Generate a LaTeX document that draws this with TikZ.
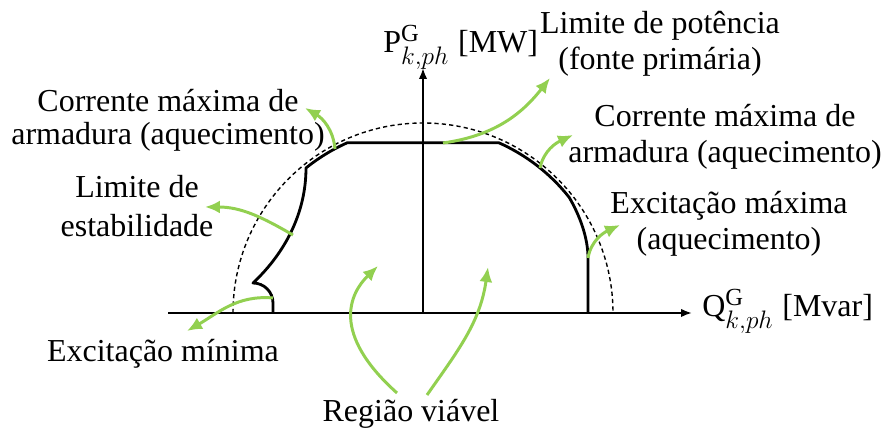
\documentclass[tikz,border=0pt]{standalone}
\usepackage{fontspec}
\setmainfont{Liberation Serif}
\usepackage{amsmath}
\DeclareMathSizes{18.2}{18.2}{14}{10}
\usetikzlibrary{arrows.meta}
\definecolor{pointgreen}{HTML}{92D050}

\begin{document}
\begin{tikzpicture}[
    x=0.02cm, y=0.02cm,
    axis/.style={line width=1.1pt, -{Latex[length=0.22cm, width=0.17cm]}},
    limit/.style={line width=1.6pt, line join=round},
    ratedcirc/.style={line width=0.8pt, dash pattern=on 2.4pt off 1.8pt},
    pointer/.style={pointgreen, line width=1.7pt,
                    -{Latex[length=0.3cm, width=0.26cm]}},
    lbl/.style={font=\fontsize{18.2}{21}\selectfont, align=center, inner sep=0pt},
]
    \useasboundingbox (0,0) rectangle (883,428);

    % Axes
    \coordinate (o)      at (423,115);
    \coordinate (qstart) at (168,115);
    \coordinate (qend)   at (692,115);
    \coordinate (pend)   at (423,360);
    \draw[axis] (qstart) -- (qend);
    \draw[axis] (o) -- (pend);
    \node[lbl, anchor=base west] (qlbl) at (702,111)
        {Q$^{\mathrm{G}}_{k,ph}$\hspace{5pt}[Mvar]};
    \node[lbl, anchor=base west] (plbl) at (383,375)
        {P$^{\mathrm{G}}_{k,ph}$\hspace{5pt}[MW]};

    % Rated circle
    \draw[ratedcirc] (233,115) arc[start angle=180, end angle=0, radius=190];

    % Capability limits
    \draw[limit] (273,115) -- (273,125)
        arc[start angle=0, end angle=90, radius=20]
        .. controls (285,175) and (306,215) .. (306,260)
        arc[start angle=128.9, end angle=114, radius=186]
        -- ++(151.8,0)
        arc[start angle=66, end angle=38.3, radius=186]
        .. controls (580,212) and (588,190) .. (588,170)
        -- (588,115);

    % Points on the limits
    \coordinate (curL)  at (335,279);
    \coordinate (stab)  at (293,193);
    \coordinate (exmin) at (273,130);
    \coordinate (pmax)  at (443,285);
    \coordinate (curR)  at (540,260);
    \coordinate (exmax) at (588,170);
    \coordinate (regL)  at (397,35);
    \coordinate (regR)  at (427,33);

    % Arrow ends
    \coordinate (curLtip)  at (305,320);
    \coordinate (stabtip)  at (205,221);
    \coordinate (exmintip) at (187,97);
    \coordinate (pmaxtip)  at (550,350);
    \coordinate (curRtip)  at (573,293);
    \coordinate (exmaxtip) at (620,203);
    \coordinate (regLtip)  at (378,162);
    \coordinate (regRtip)  at (488,161);

    % Pointers
    \draw[pointer] (curL) to[out=95, in=-30] (curLtip);
    \draw[pointer] (stab) to[out=150, in=0] (stabtip);
    \draw[pointer] (exmin) to[out=175, in=30] (exmintip);
    \draw[pointer] (pmax) to[out=8, in=232] (pmaxtip);
    \draw[pointer] (curR) to[out=78, in=205] (curRtip);
    \draw[pointer] (exmax) to[out=80, in=205] (exmaxtip);
    \draw[pointer] (regL) .. controls (330,95) and (350,135) .. (regLtip);
    \draw[pointer] (regR) to[out=55, in=262] (regRtip);

    % Labels (base = last line)
    \node[lbl, anchor=base] (curLlbl) at (168,283)
        {Corrente máxima de\\[-2.2pt] armadura (aquecimento)};
    \node[lbl, anchor=base] (stablbl) at (137,191)
        {Limite de\\[1.2pt] estabilidade};
    \node[lbl, anchor=base] (exminlbl) at (163,66) {Excitação mínima};
    \node[lbl, anchor=base] (reglbl) at (411,6) {Região viável};
    \node[lbl, anchor=base] (pmaxlbl) at (660,358)
        {Limite de potência\\ (fonte primária)};
    \node[lbl, anchor=base] (curRlbl) at (725,265)
        {Corrente máxima de\\ armadura (aquecimento)};
    \node[lbl, anchor=base] (exmaxlbl) at (729,178)
        {Excitação máxima\\ (aquecimento)};
\end{tikzpicture}
\end{document}
